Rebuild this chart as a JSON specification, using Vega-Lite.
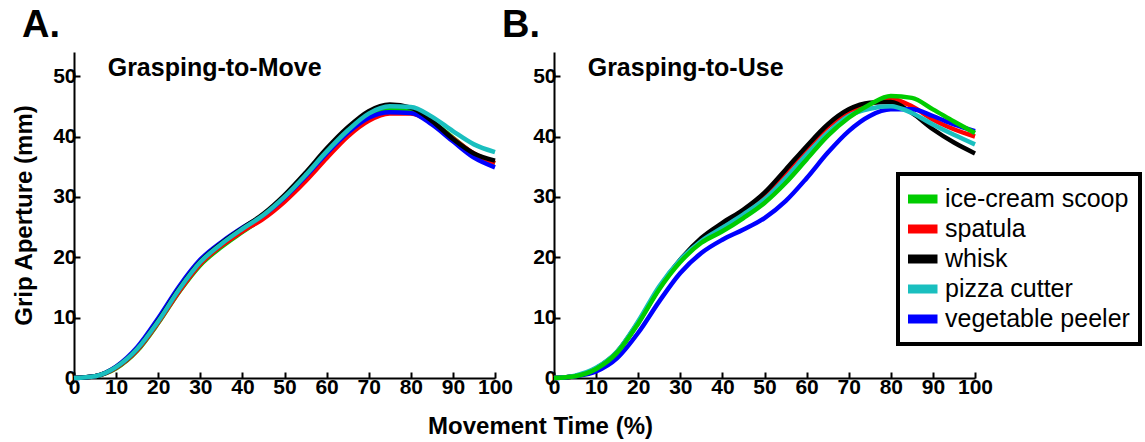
{
  "$schema": "https://vega.github.io/schema/vega-lite/v6.json",
  "padding": {"left": 12, "top": 7, "right": 5, "bottom": 5},
  "background": "white",
  "config": {
    "view": {"stroke": null},
    "legend": {"strokeWidth": 4},
    "axis": {
      "grid": false,
      "domainColor": "black",
      "domainWidth": 2,
      "tickColor": "black",
      "tickWidth": 2,
      "tickSize": -6,
      "labelFont": "Liberation Sans",
      "labelFontWeight": "bold",
      "labelFontSize": 21,
      "labelColor": "black",
      "labelFlush": false,
      "labelOverlap": false,
      "titleFont": "Liberation Sans",
      "titleFontWeight": "bold",
      "titleFontSize": 24,
      "titleColor": "black"
    },
    "title": {
      "font": "Liberation Sans",
      "fontSize": 38,
      "fontWeight": "bold",
      "color": "black",
      "anchor": "start",
      "frame": "group",
      "baseline": "alphabetic",
      "offset": 7,
      "dx": -52
    }
  },
  "datasets": {
    "move": [
      {"tool":"ice-cream scoop","t":0,"g":0},{"tool":"ice-cream scoop","t":5,"g":0.3},{"tool":"ice-cream scoop","t":10,"g":1.6},{"tool":"ice-cream scoop","t":15,"g":4.5},{"tool":"ice-cream scoop","t":20,"g":9.1},{"tool":"ice-cream scoop","t":25,"g":14.3},{"tool":"ice-cream scoop","t":30,"g":18.7},{"tool":"ice-cream scoop","t":35,"g":21.7},{"tool":"ice-cream scoop","t":40,"g":24.2},{"tool":"ice-cream scoop","t":45,"g":26.6},{"tool":"ice-cream scoop","t":50,"g":29.6},{"tool":"ice-cream scoop","t":55,"g":33.2},{"tool":"ice-cream scoop","t":60,"g":37.0},{"tool":"ice-cream scoop","t":65,"g":40.5},{"tool":"ice-cream scoop","t":70,"g":43.2},{"tool":"ice-cream scoop","t":75,"g":44.5},{"tool":"ice-cream scoop","t":80,"g":44.3},{"tool":"ice-cream scoop","t":85,"g":42.5},{"tool":"ice-cream scoop","t":90,"g":39.8},{"tool":"ice-cream scoop","t":95,"g":37.1},{"tool":"ice-cream scoop","t":100,"g":35.6},
      {"tool":"spatula","t":0,"g":0},{"tool":"spatula","t":5,"g":0.3},{"tool":"spatula","t":10,"g":1.7},{"tool":"spatula","t":15,"g":4.6},{"tool":"spatula","t":20,"g":9.2},{"tool":"spatula","t":25,"g":14.4},{"tool":"spatula","t":30,"g":18.9},{"tool":"spatula","t":35,"g":21.9},{"tool":"spatula","t":40,"g":24.3},{"tool":"spatula","t":45,"g":26.4},{"tool":"spatula","t":50,"g":29.2},{"tool":"spatula","t":55,"g":32.6},{"tool":"spatula","t":60,"g":36.4},{"tool":"spatula","t":65,"g":40.0},{"tool":"spatula","t":70,"g":42.6},{"tool":"spatula","t":75,"g":43.8},{"tool":"spatula","t":80,"g":43.8},{"tool":"spatula","t":85,"g":42.3},{"tool":"spatula","t":90,"g":39.7},{"tool":"spatula","t":95,"g":37.2},{"tool":"spatula","t":100,"g":35.6},
      {"tool":"vegetable peeler","t":0,"g":0},{"tool":"vegetable peeler","t":5,"g":0.3},{"tool":"vegetable peeler","t":10,"g":1.9},{"tool":"vegetable peeler","t":15,"g":5.1},{"tool":"vegetable peeler","t":20,"g":9.9},{"tool":"vegetable peeler","t":25,"g":15.2},{"tool":"vegetable peeler","t":30,"g":19.6},{"tool":"vegetable peeler","t":35,"g":22.5},{"tool":"vegetable peeler","t":40,"g":24.9},{"tool":"vegetable peeler","t":45,"g":27.0},{"tool":"vegetable peeler","t":50,"g":29.9},{"tool":"vegetable peeler","t":55,"g":33.4},{"tool":"vegetable peeler","t":60,"g":37.2},{"tool":"vegetable peeler","t":65,"g":40.6},{"tool":"vegetable peeler","t":70,"g":43.1},{"tool":"vegetable peeler","t":75,"g":44.0},{"tool":"vegetable peeler","t":80,"g":43.9},{"tool":"vegetable peeler","t":85,"g":42.0},{"tool":"vegetable peeler","t":90,"g":39.2},{"tool":"vegetable peeler","t":95,"g":36.5},{"tool":"vegetable peeler","t":100,"g":34.9},
      {"tool":"whisk","t":0,"g":0},{"tool":"whisk","t":5,"g":0.3},{"tool":"whisk","t":10,"g":1.8},{"tool":"whisk","t":15,"g":4.8},{"tool":"whisk","t":20,"g":9.5},{"tool":"whisk","t":25,"g":14.8},{"tool":"whisk","t":30,"g":19.3},{"tool":"whisk","t":35,"g":22.3},{"tool":"whisk","t":40,"g":24.8},{"tool":"whisk","t":45,"g":27.2},{"tool":"whisk","t":50,"g":30.3},{"tool":"whisk","t":55,"g":34.0},{"tool":"whisk","t":60,"g":38.0},{"tool":"whisk","t":65,"g":41.5},{"tool":"whisk","t":70,"g":44.2},{"tool":"whisk","t":75,"g":45.3},{"tool":"whisk","t":80,"g":44.8},{"tool":"whisk","t":85,"g":42.6},{"tool":"whisk","t":90,"g":39.6},{"tool":"whisk","t":95,"g":37.2},{"tool":"whisk","t":100,"g":36.0},
      {"tool":"pizza cutter","t":0,"g":0},{"tool":"pizza cutter","t":5,"g":0.3},{"tool":"pizza cutter","t":10,"g":1.8},{"tool":"pizza cutter","t":15,"g":4.8},{"tool":"pizza cutter","t":20,"g":9.4},{"tool":"pizza cutter","t":25,"g":14.7},{"tool":"pizza cutter","t":30,"g":19.2},{"tool":"pizza cutter","t":35,"g":22.2},{"tool":"pizza cutter","t":40,"g":24.7},{"tool":"pizza cutter","t":45,"g":27.0},{"tool":"pizza cutter","t":50,"g":30.0},{"tool":"pizza cutter","t":55,"g":33.6},{"tool":"pizza cutter","t":60,"g":37.5},{"tool":"pizza cutter","t":65,"g":41.0},{"tool":"pizza cutter","t":70,"g":43.8},{"tool":"pizza cutter","t":75,"g":45.0},{"tool":"pizza cutter","t":80,"g":44.9},{"tool":"pizza cutter","t":85,"g":43.3},{"tool":"pizza cutter","t":90,"g":40.9},{"tool":"pizza cutter","t":95,"g":38.7},{"tool":"pizza cutter","t":100,"g":37.4}
    ],
    "use": [
      {"tool":"spatula","t":0,"g":0},{"tool":"spatula","t":5,"g":0.3},{"tool":"spatula","t":10,"g":1.6},{"tool":"spatula","t":15,"g":4.3},{"tool":"spatula","t":20,"g":9.2},{"tool":"spatula","t":25,"g":14.9},{"tool":"spatula","t":30,"g":19.5},{"tool":"spatula","t":35,"g":23.0},{"tool":"spatula","t":40,"g":25.5},{"tool":"spatula","t":45,"g":27.7},{"tool":"spatula","t":50,"g":30.4},{"tool":"spatula","t":55,"g":34.1},{"tool":"spatula","t":60,"g":38.0},{"tool":"spatula","t":65,"g":41.6},{"tool":"spatula","t":70,"g":44.0},{"tool":"spatula","t":75,"g":45.4},{"tool":"spatula","t":80,"g":46.2},{"tool":"spatula","t":85,"g":45.0},{"tool":"spatula","t":90,"g":42.8},{"tool":"spatula","t":95,"g":41.2},{"tool":"spatula","t":100,"g":40.0},
      {"tool":"whisk","t":0,"g":0},{"tool":"whisk","t":5,"g":0.3},{"tool":"whisk","t":10,"g":1.6},{"tool":"whisk","t":15,"g":4.3},{"tool":"whisk","t":20,"g":9.2},{"tool":"whisk","t":25,"g":14.9},{"tool":"whisk","t":30,"g":19.6},{"tool":"whisk","t":35,"g":23.2},{"tool":"whisk","t":40,"g":25.7},{"tool":"whisk","t":45,"g":27.9},{"tool":"whisk","t":50,"g":30.7},{"tool":"whisk","t":55,"g":34.5},{"tool":"whisk","t":60,"g":38.4},{"tool":"whisk","t":65,"g":42.0},{"tool":"whisk","t":70,"g":44.5},{"tool":"whisk","t":75,"g":45.6},{"tool":"whisk","t":80,"g":45.7},{"tool":"whisk","t":85,"g":43.9},{"tool":"whisk","t":90,"g":41.2},{"tool":"whisk","t":95,"g":39.0},{"tool":"whisk","t":100,"g":37.2},
      {"tool":"vegetable peeler","t":0,"g":0},{"tool":"vegetable peeler","t":5,"g":0.3},{"tool":"vegetable peeler","t":10,"g":1.1},{"tool":"vegetable peeler","t":15,"g":3.3},{"tool":"vegetable peeler","t":20,"g":7.5},{"tool":"vegetable peeler","t":25,"g":12.7},{"tool":"vegetable peeler","t":30,"g":17.4},{"tool":"vegetable peeler","t":35,"g":20.7},{"tool":"vegetable peeler","t":40,"g":22.9},{"tool":"vegetable peeler","t":45,"g":24.6},{"tool":"vegetable peeler","t":50,"g":26.5},{"tool":"vegetable peeler","t":55,"g":29.3},{"tool":"vegetable peeler","t":60,"g":33.1},{"tool":"vegetable peeler","t":65,"g":37.3},{"tool":"vegetable peeler","t":70,"g":40.9},{"tool":"vegetable peeler","t":75,"g":43.4},{"tool":"vegetable peeler","t":80,"g":44.5},{"tool":"vegetable peeler","t":85,"g":44.5},{"tool":"vegetable peeler","t":90,"g":43.4},{"tool":"vegetable peeler","t":95,"g":42.0},{"tool":"vegetable peeler","t":100,"g":40.9},
      {"tool":"pizza cutter","t":0,"g":0},{"tool":"pizza cutter","t":5,"g":0.4},{"tool":"pizza cutter","t":10,"g":1.7},{"tool":"pizza cutter","t":15,"g":4.4},{"tool":"pizza cutter","t":20,"g":9.4},{"tool":"pizza cutter","t":25,"g":15.2},{"tool":"pizza cutter","t":30,"g":19.6},{"tool":"pizza cutter","t":35,"g":22.7},{"tool":"pizza cutter","t":40,"g":24.9},{"tool":"pizza cutter","t":45,"g":27.1},{"tool":"pizza cutter","t":50,"g":29.6},{"tool":"pizza cutter","t":55,"g":33.1},{"tool":"pizza cutter","t":60,"g":37.0},{"tool":"pizza cutter","t":65,"g":40.6},{"tool":"pizza cutter","t":70,"g":43.4},{"tool":"pizza cutter","t":75,"g":44.6},{"tool":"pizza cutter","t":80,"g":45.0},{"tool":"pizza cutter","t":85,"g":43.9},{"tool":"pizza cutter","t":90,"g":42.0},{"tool":"pizza cutter","t":95,"g":40.3},{"tool":"pizza cutter","t":100,"g":38.7},
      {"tool":"ice-cream scoop","t":0,"g":0},{"tool":"ice-cream scoop","t":5,"g":0.3},{"tool":"ice-cream scoop","t":10,"g":1.5},{"tool":"ice-cream scoop","t":15,"g":4.2},{"tool":"ice-cream scoop","t":20,"g":9.0},{"tool":"ice-cream scoop","t":25,"g":14.7},{"tool":"ice-cream scoop","t":30,"g":19.2},{"tool":"ice-cream scoop","t":35,"g":22.4},{"tool":"ice-cream scoop","t":40,"g":24.3},{"tool":"ice-cream scoop","t":45,"g":26.5},{"tool":"ice-cream scoop","t":50,"g":29.0},{"tool":"ice-cream scoop","t":55,"g":32.3},{"tool":"ice-cream scoop","t":60,"g":36.2},{"tool":"ice-cream scoop","t":65,"g":40.1},{"tool":"ice-cream scoop","t":70,"g":43.1},{"tool":"ice-cream scoop","t":75,"g":45.3},{"tool":"ice-cream scoop","t":80,"g":46.7},{"tool":"ice-cream scoop","t":85,"g":46.4},{"tool":"ice-cream scoop","t":90,"g":44.5},{"tool":"ice-cream scoop","t":95,"g":42.5},{"tool":"ice-cream scoop","t":100,"g":40.6}
    ]
  },
  "spacing": 59,
  "bounds": "flush",
  "resolve": {"scale": {"color": "independent"}, "legend": {"color": "independent"}},
  "hconcat": [
    {
      "title": {"text": "A."},
      "width": 421,
      "height": 326,
      "encoding": {
        "x": {"field": "t", "type": "quantitative", "scale": {"domain": [0, 100], "nice": false}, "axis": {"values": [0,10,20,30,40,50,60,70,80,90,100], "title": null, "labelPadding": 4}},
        "y": {"field": "g", "type": "quantitative", "scale": {"domain": [0, 54], "nice": false}, "axis": {"values": [0,10,20,30,40,50], "title": "Grip Aperture (mm)", "titlePadding": 16, "labelPadding": 4}}
      },
      "layer": [
        {
          "data": {"name": "move"},
          "mark": {"type": "line", "strokeWidth": 4.5, "interpolate": "monotone"},
          "encoding": {
            "color": {"field": "tool", "type": "nominal",
              "scale": {"domain": ["ice-cream scoop","spatula","whisk","pizza cutter","vegetable peeler"], "range": ["#00cc00","#ff0000","#000000","#1abfbf","#0000ff"]},
              "legend": null}
          }
        },
        {
          "data": {"values": [{"t": 8, "g": 50, "label": "Grasping-to-Move"}]},
          "mark": {"type": "text", "align": "left", "baseline": "alphabetic", "font": "Liberation Sans", "fontWeight": "bold", "fontSize": 25, "color": "black"},
          "encoding": {"text": {"field": "label"}}
        }
      ]
    },
    {
      "title": {"text": "B."},
      "width": 421,
      "height": 326,
      "encoding": {
        "x": {"field": "t", "type": "quantitative", "scale": {"domain": [0, 100], "nice": false}, "axis": {"values": [0,10,20,30,40,50,60,70,80,90,100], "title": "Movement Time (%)", "labelPadding": 4, "titleX": -14, "titleY": 55, "titleBaseline": "alphabetic", "titleAlign": "center"}},
        "y": {"field": "g", "type": "quantitative", "scale": {"domain": [0, 54], "nice": false}, "axis": {"values": [0,10,20,30,40,50], "title": null, "labelPadding": 4}}
      },
      "layer": [
        {
          "data": {"name": "use"},
          "mark": {"type": "line", "strokeWidth": 4.5, "interpolate": "monotone"},
          "encoding": {
            "color": {"field": "tool", "type": "nominal",
              "scale": {"domain": ["ice-cream scoop","spatula","whisk","pizza cutter","vegetable peeler"], "range": ["#00cc00","#ff0000","#000000","#1abfbf","#0000ff"]},
              "legend": {"orient": "none", "legendX": 344, "legendY": 122, "title": null, "symbolType": "stroke", "symbolSize": 900, "symbolStrokeWidth": 9, "symbolOpacity": 1, "symbolOffset": -5, "clipHeight": 30, "labelFont": "Liberation Sans", "labelFontSize": 25, "labelLimit": 400, "labelColor": "black", "labelOffset": 3, "strokeColor": "black", "fillColor": "white", "padding": 10, "rowPadding": 0}}
          }
        },
        {
          "data": {"values": [{"t": 8, "g": 50, "label": "Grasping-to-Use"}]},
          "mark": {"type": "text", "align": "left", "baseline": "alphabetic", "font": "Liberation Sans", "fontWeight": "bold", "fontSize": 25, "color": "black"},
          "encoding": {"text": {"field": "label"}}
        }
      ]
    }
  ]
}
